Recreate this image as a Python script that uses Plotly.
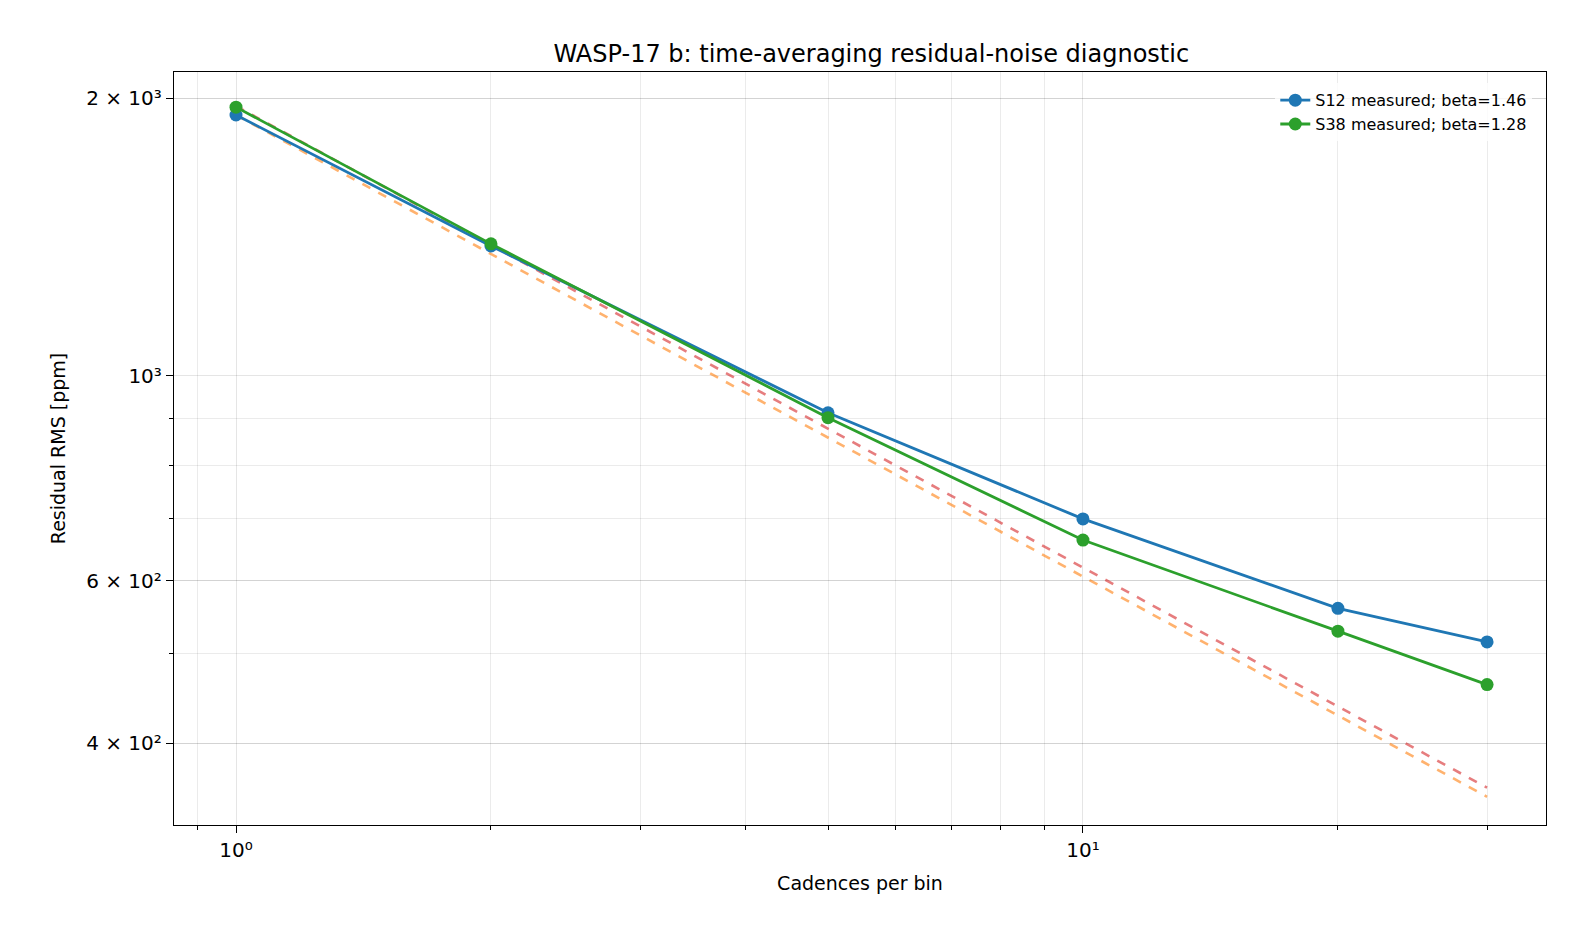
import plotly.graph_objects as go

cadences = [1, 2, 5, 10, 20, 30]
s12_rms = [1917, 1383, 912, 700, 560, 515]
s38_rms = [1955, 1390, 901, 664, 529, 463]
s38_white = [1960, 1386, 877, 620, 438, 358]
s12_white = [1917, 1356, 857, 606, 429, 350]

y_tickvals = [400, 600, 1000, 2000]
y_ticktext = ["4 × 10²", "6 × 10²", "10³", "2 × 10³"]
y_minor = [400, 500, 600, 700, 800, 900, 2000]
x_tickvals = [1, 10]
x_ticktext = ["10⁰", "10¹"]
x_minor = [0.9, 2, 3, 4, 5, 6, 7, 8, 9, 20, 30]

fig = go.Figure()
fig.add_trace(go.Scatter(x=cadences, y=s38_white, mode="lines", showlegend=False,
                         line=dict(color="rgba(214,39,40,0.6)", width=2.6, dash="dash")))
fig.add_trace(go.Scatter(x=cadences, y=s12_white, mode="lines", showlegend=False,
                         line=dict(color="rgba(255,127,14,0.6)", width=2.6, dash="dash")))
fig.add_trace(go.Scatter(x=cadences, y=s12_rms, mode="lines+markers",
                         name="S12 measured; beta=1.46",
                         line=dict(color="#1f77b4", width=2.8), marker=dict(size=13)))
fig.add_trace(go.Scatter(x=cadences, y=s38_rms, mode="lines+markers",
                         name="S38 measured; beta=1.28",
                         line=dict(color="#2ca02c", width=2.8), marker=dict(size=13)))


def axis_style(minor_vals):
    return dict(showline=True, linecolor="black", linewidth=1.3, mirror=True,
                ticks="outside", ticklen=7, tickcolor="black", showgrid=True,
                gridcolor="rgba(0,0,0,0.1)", zeroline=False,
                tickfont=dict(size=20),
                minor=dict(tickvals=minor_vals, showgrid=True,
                           gridcolor="rgba(0,0,0,0.08)", ticks="outside",
                           ticklen=4, tickcolor="black"))


fig.update_xaxes(type="log", range=[-0.0732, 1.5467], tickvals=x_tickvals,
                 ticktext=x_ticktext,
                 title=dict(text="Cadences per bin", font=dict(size=19)),
                 **axis_style(x_minor))
fig.update_yaxes(type="log", range=[2.5135, 3.3292], tickvals=y_tickvals,
                 ticktext=y_ticktext,
                 title=dict(text="Residual RMS [ppm]", font=dict(size=19)),
                 **axis_style(y_minor))

fig.update_layout(
    width=1584, height=936,
    paper_bgcolor="white", plot_bgcolor="white",
    font=dict(family="DejaVu Sans", color="black"),
    title=dict(text="WASP-17 b: time-averaging residual-noise diagnostic",
               x=0.545, xanchor="center", y=0.96, font=dict(size=24)),
    margin=dict(l=166, r=46, t=64, b=119, pad=0),
    legend=dict(x=0.99, y=0.985, xanchor="right", yanchor="top",
                bgcolor="rgba(255,255,255,0.8)", font=dict(size=16)),
)

fig.write_html("out.html")
